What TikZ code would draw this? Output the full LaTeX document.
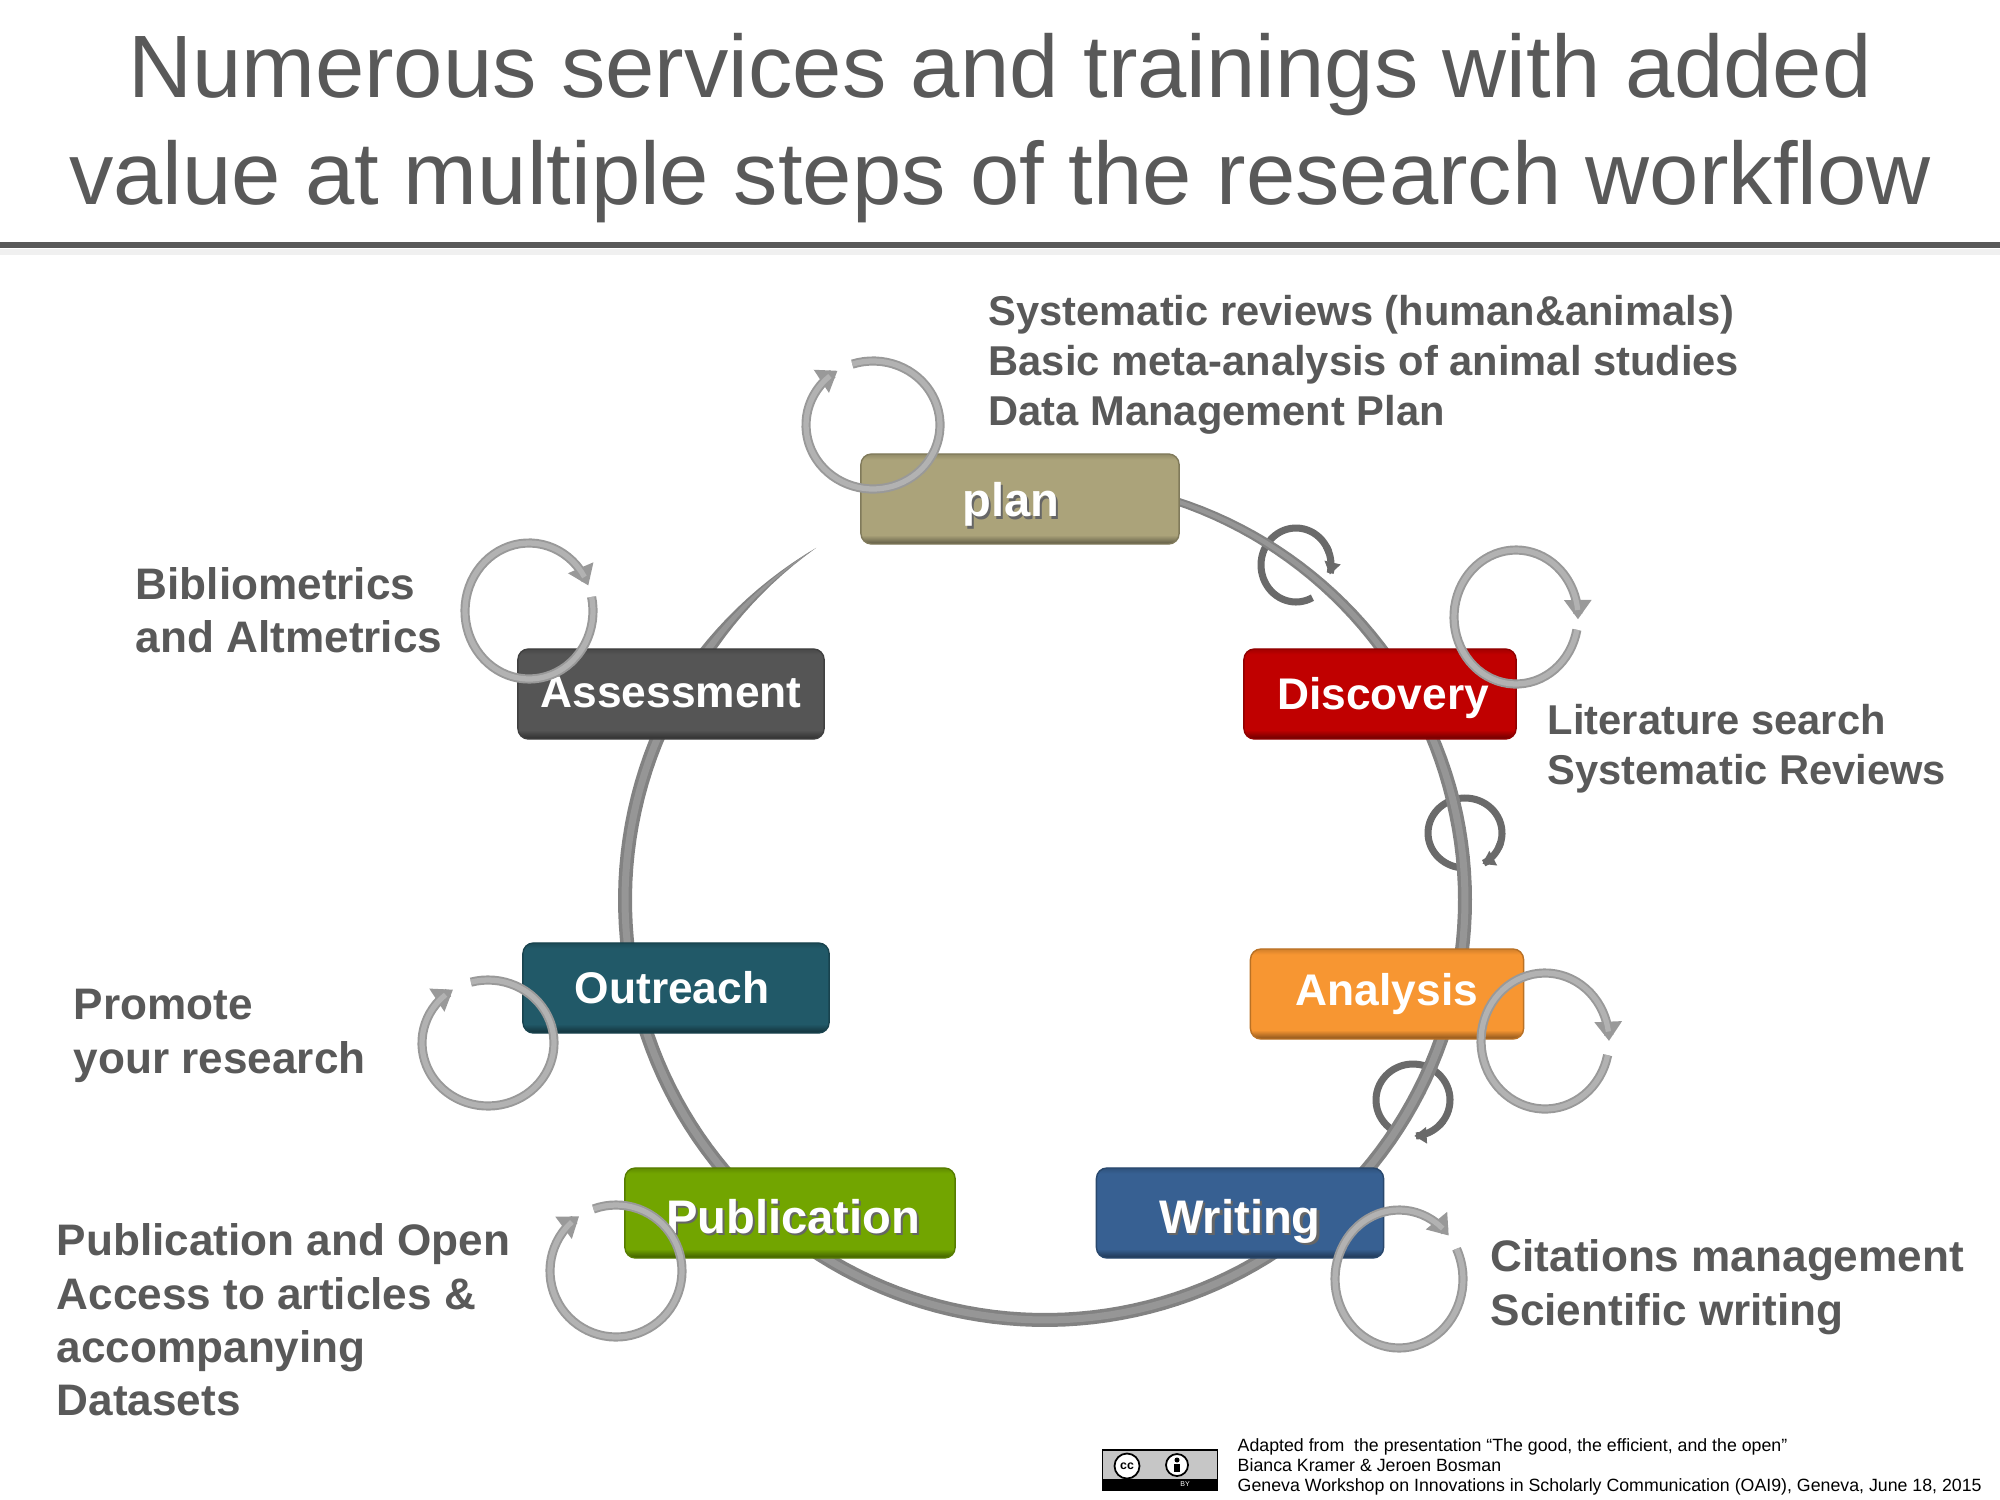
\documentclass[tikz,border=0pt]{standalone}
\usepackage{fontspec}
\setmainfont{Liberation Sans}
\usepackage{tikz}
\usetikzlibrary{arrows.meta,positioning,calc}
\definecolor{txt}{RGB}{89,89,89}
\definecolor{ringdk}{RGB}{130,130,130}
\definecolor{ringlt}{RGB}{150,150,150}
\definecolor{planc}{RGB}{171,163,122}
\definecolor{discc}{RGB}{192,0,0}
\definecolor{analc}{RGB}{247,150,50}
\definecolor{writc}{RGB}{55,96,146}
\definecolor{pubc}{RGB}{114,165,0}
\definecolor{outc}{RGB}{33,89,104}
\definecolor{assc}{RGB}{85,85,85}
\colorlet{bevelc}{gray}
\pgfdeclareverticalshading[bevelc]{bevel}{100bp}{
  color(0bp)=(bevelc!55!black); color(25bp)=(bevelc!55!black); color(30bp)=(bevelc);
  color(72bp)=(bevelc); color(75bp)=(bevelc!85!black); color(100bp)=(bevelc!85!black)}
\tikzset{
  declare function={ringw(\t)=min(min(14,8+(\t+72)*0.1),(237-\t)*0.65);},
  stagebox/.style={rectangle,rounded corners=3pt,/utils/exec=\colorlet{bevelc}{#1},
    shade,shading=bevel,draw=bevelc!75!black,thin,inner sep=0pt,minimum height=9mm,
    text=white,text height=9pt,text depth=0pt,font=\bfseries\fontsize{12.6}{15}\selectfont},
  stagelarge/.style={font=\bfseries\fontsize{13.4}{15}\selectfont},
  note/.style={align=left,anchor=west,text=txt,inner sep=0pt,font=\bfseries\fontsize{11.85}{14.3}\selectfont},
  notewide/.style={note,font=\bfseries\fontsize{12.55}{15.2}\selectfont},
  bigturn/.style={-{Triangle[width=7.5pt,length=5.5pt]},line width=2.6pt,draw=gray!80},
  bigshine/.style={line width=1.5pt,draw=gray!60},
  smallturn/.style={line width=2pt,draw=txt!90},
  smalltip/.style={smallturn,-{Triangle[width=4.5pt,length=3.5pt]}},
}
% big cycle arrow: centre, x radius, y radius, from, to
\newcommand{\bigcycle}[5]{
  \draw[bigturn,shift={#1}] plot[domain=#4:#5,samples=70] ({#2*cos(\x)},{#3*sin(\x)});
  \draw[bigshine,shift={#1}] plot[domain=#4:#5-8,samples=70] ({#2*cos(\x)},{#3*sin(\x)});
}
\newcommand{\shadetext}[1]{\rlap{\kern0.6pt\raisebox{-0.7pt}{\textcolor{black!60}{#1}}}#1}
\begin{document}
\begin{tikzpicture}[x=0.01cm,y=-0.01cm]
\useasboundingbox (0,0) rectangle (2000,1500);

% title
\node[text=txt,align=center,font=\fontsize{25.2}{30.2}\selectfont] (title) at (1000,128) {Numerous services and trainings with added\\value at multiple steps of the research workflow};
\coordinate (ruleL) at (0,245);
\coordinate (ruleR) at (2000,245);
\draw[line width=1.8pt,gray!12] ($(ruleL)+(0,7)$) -- ($(ruleR)+(0,7)$);
\draw[line width=1.5pt,txt] (ruleL) -- (ruleR);

% small cycles, under the ring
\draw[smallturn,shift={(1296,565)}] plot[domain=62:340,samples=50] ({35*cos(\x)},{37*sin(\x)});
\draw[smallturn,shift={(1465,833)}] plot[domain=100:385,samples=50] ({37*cos(\x)},{35*sin(\x)});
\draw[smallturn,shift={(1413,1100)}] plot[domain=125:405,samples=50] ({37*cos(\x)},{36*sin(\x)});

% ring
\fill[ringdk] plot[domain=-72:237,samples=160] ({1045+(420+ringw(\x)/2)*cos(\x)},{900+(420+ringw(\x)/2)*sin(\x)})
  -- plot[domain=237:-72,samples=160] ({1045+(420-ringw(\x)/2)*cos(\x)},{900+(420-ringw(\x)/2)*sin(\x)}) -- cycle;
\fill[ringlt] plot[domain=-72:236,samples=160] ({1045+(420+ringw(\x)/4)*cos(\x)},{900+(420+ringw(\x)/4)*sin(\x)})
  -- plot[domain=236:-72,samples=160] ({1045+(420-ringw(\x)/4)*cos(\x)},{900+(420-ringw(\x)/4)*sin(\x)}) -- cycle;

% tips of the small cycles, over the ring
\draw[smalltip,shift={(1296,565)}] plot[domain=-30:15,samples=20] ({35*cos(\x)},{37*sin(\x)});
\draw[smalltip,shift={(1465,833)}] plot[domain=15:62,samples=20] ({37*cos(\x)},{35*sin(\x)});
\draw[smalltip,shift={(1413,1100)}] plot[domain=35:88,samples=20] ({37*cos(\x)},{36*sin(\x)});

% stages
\node[stagebox=planc,stagelarge,minimum width=3.18cm] (plan) at (1020,499) {\raisebox{-0.5pt}{\shadetext{plan}}\hspace*{1.8mm}};
\node[stagebox=discc,minimum width=2.72cm] (disc) at (1380,694) {\hspace*{0.6mm}Discovery};
\node[stagebox=analc,minimum width=2.73cm] (anal) at (1387,994) {\raisebox{1.3pt}{Analysis}};
\node[stagebox=writc,stagelarge,minimum width=2.87cm] (writ) at (1240,1213) {\raisebox{-1.2pt}{\shadetext{Writing}}};
\node[stagebox=pubc,stagelarge,minimum width=3.30cm] (pub) at (790,1213) {\hspace*{0.6mm}\raisebox{-1.2pt}{\shadetext{Publication}}};
\node[stagebox=outc,minimum width=3.06cm] (outr) at (676,988) {Outreach\hspace*{0.8mm}};
\node[stagebox=assc,minimum width=3.06cm] (asse) at (671,694) {\raisebox{0.6pt}{Assessment}};

% big cycles
\bigcycle{(873,425)}{67}{64}{-108}{238}
\bigcycle{(1516,617)}{62}{67}{11}{362}
\bigcycle{(1545,1041)}{64}{68}{12}{360}
\bigcycle{(1399,1279)}{64}{69}{-26}{321}
\bigcycle{(616,1271)}{66}{66}{-110}{236}
\bigcycle{(488,1043)}{66}{63}{-105}{238}
\bigcycle{(529,611)}{64}{68}{-12}{338}

% side notes
\node[note] (plannote) at (988,365) {Systematic reviews (human\&animals)\\Basic meta-analysis of animal studies\\Data Management Plan};
\node[notewide] (assnote) at (135,610) {Bibliometrics\\and Altmetrics};
\node[note] (discnote) at (1547,749) {Literature search\\Systematic Reviews};
\node[notewide] (outnote) at (73,1036) {Promote\\your research};
\node[notewide] (pubnote) at (56,1320) {Publication and Open\\Access to articles \&\\accompanying\\Datasets};
\node[notewide] (writnote) at (1490,1287) {Citations management\\Scientific writing};

% licence badge and credit
\node[rectangle,fill=gray!45,draw=black,minimum width=1.15cm,minimum height=0.4cm,inner sep=0pt] (badge) at (1160,1470) {};
\node[rectangle,fill=black,minimum width=1.15cm,minimum height=0.11cm,inner sep=0pt,anchor=south,text=white,font=\fontsize{2}{2}\selectfont] (badgeby) at (badge.south) {\hspace*{5mm}BY};
\node[circle,draw=black,fill=white,line width=0.5pt,minimum size=0.25cm,inner sep=0pt,font=\bfseries\fontsize{3.5}{4}\selectfont] (badgecc) at (1127,1466) {cc};
\node[circle,draw=black,fill=white,line width=0.5pt,minimum size=0.22cm,inner sep=0pt] (badgeman) at (1177,1465) {};
\fill (badgeman.center) ++(0,-5) circle (2.5 and 2.5);
\fill ($(badgeman.center)+(-3,-1)$) rectangle ($(badgeman.center)+(3,7)$);
\node[align=left,anchor=west,inner sep=0pt,font=\fontsize{5.05}{5.7}\selectfont] (credit) at (1237,1467) {Adapted from\ \ the presentation “The good, the efficient, and the open”\\Bianca Kramer \& Jeroen Bosman\\Geneva Workshop on Innovations in Scholarly Communication (OAI9), Geneva, June 18, 2015};
\end{tikzpicture}
\end{document}
